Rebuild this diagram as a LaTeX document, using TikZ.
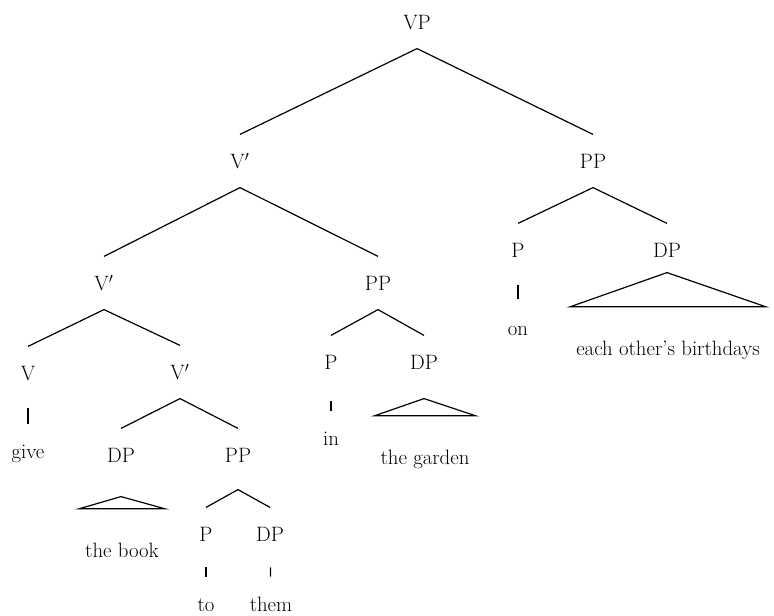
\documentclass[tikz,border=0pt]{standalone}
\usetikzlibrary{calc}

\tikzset{every picture/.style={line width=0.9pt}}
\tikzset{
  cat/.style={font=\fontsize{15.6}{18}\selectfont, text height=11pt, text depth=0pt, inner xsep=1pt, inner ysep=14pt},
  phrase/.style={font=\fontsize{15.6}{18}\selectfont, text height=11pt, text depth=0pt, inner xsep=4pt, inner ysep=25pt},
  bar/.style={shorten <=6pt, shorten >=0.5pt}
}

\begin{document}
\begin{tikzpicture}[x=0.75pt,y=0.75pt,yscale=-1,xscale=1]
	\useasboundingbox (0,0) rectangle (774,616);

	% Categories
	\node[cat] (vp) at (417,22) {VP};
	\node[cat] (vbara) at (240,161) {V$'$};
	\node[cat] (ppa) at (593,161) {PP};
	\node[cat] (vbarb) at (104,283) {V$'$};
	\node[cat] (ppb) at (378,283) {PP};
	\node[cat] (pa) at (518,250) {P};
	\node[cat] (dpa) at (667,250) {DP};
	\node[cat] (v) at (28,373) {V};
	\node[cat] (vbarc) at (180,372) {V$'$};
	\node[cat] (pb) at (331,362) {P};
	\node[cat] (dpb) at (424,362) {DP};
	\node[cat] (dpc) at (121,455) {DP};
	\node[cat] (ppc) at (238,455) {PP};
	\node[cat] (pc) at (206,534) {P};
	\node[cat] (dpd) at (270,534) {DP};

	% Words
	\node[cat] (give) at (28,451) {give};
	\node[cat] (in) at (331,438) {in};
	\node[cat] (on) at (518,328) {on};
	\node[cat] (to) at (206,604) {to};
	\node[cat] (them) at (271,604) {them};
	\node[phrase] (birthdays) at (668,348) {each other's birthdays};
	\node[phrase] (garden) at (425,457) {the garden};
	\node[phrase] (book) at (122,550) {the book};

	% Branches
	\draw (vbara.north) -- (vp.south) -- (ppa.north);
	\draw (vbarb.north) -- (vbara.south) -- (ppb.north);
	\draw (pa.north) -- (ppa.south) -- (dpa.north);
	\draw (v.north) -- (vbarb.south) -- (vbarc.north);
	\draw (pb.north) -- (ppb.south) -- (dpb.north);
	\draw (dpc.north) -- (vbarc.south) -- (ppc.north);
	\draw (pc.north) -- ($(ppc.south)+(0,8)$) -- (dpd.north);

	% Unary bars
	\draw[bar] (v) -- (give);
	\draw[bar, shorten <=9pt] (pb) -- (in);
	\draw[bar, shorten >=2pt] (pa) -- (on);
	\draw[bar, shorten <=5pt] (pc) -- (to);
	\draw[bar, shorten <=5pt] (dpd) -- (them);

	% Triangles
	\draw ($(dpa.south)+(0,-4)$) -- (birthdays.north east) -- (birthdays.north west) -- cycle;
	\draw ($(dpb.south)+(0,10)$) -- (garden.north east) -- (garden.north west) -- cycle;
	\draw ($(dpc.south)+(0,15)$) -- (book.north east) -- (book.north west) -- cycle;

\end{tikzpicture}
\end{document}
